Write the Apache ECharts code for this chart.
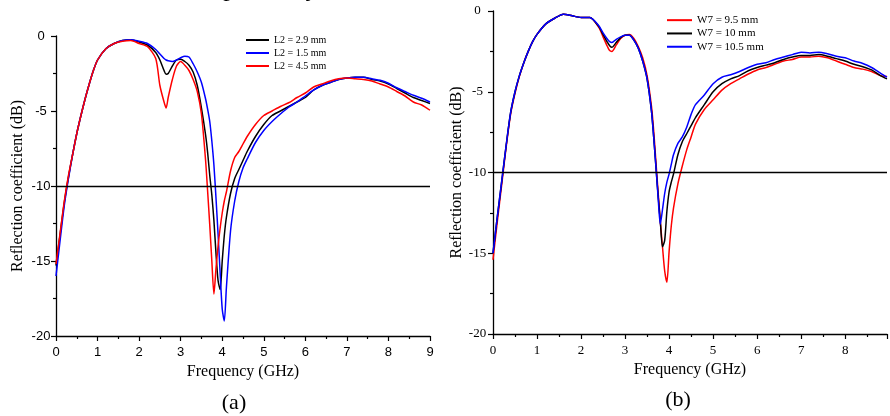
<!DOCTYPE html>
<html>
<head>
<meta charset="utf-8">
<script src="https://cdn.jsdelivr.net/npm/echarts@6/dist/echarts.min.js"></script>
<style>
html,body{margin:0;padding:0;background:#fff;}
#c{width:890px;height:416px;}
</style>
</head>
<body>
<div id="c"></div>
<script>
// ---------- data ----------
const freqA = [0,0.1,0.2,0.3,0.4,0.5,0.6,0.7,0.8,0.9,1.0,1.2,1.4,1.6,1.8,2.0,2.2,2.4,2.5,2.6,2.65,2.7,2.8,2.9,3.0,3.1,3.2,3.3,3.4,3.5,3.6,3.65,3.7,3.75,3.8,3.85,3.9,3.95,4.0,4.05,4.1,4.2,4.3,4.4,4.5,4.6,4.8,5.0,5.2,5.4,5.6,5.8,6.0,6.2,6.4,6.6,6.8,7.0,7.2,7.4,7.6,7.8,8.0,8.2,8.4,8.6,8.8,9.0];
const L2_29 = [-15.3,-13.2,-11.1,-9.4,-7.9,-6.5,-5.3,-4.2,-3.2,-2.3,-1.6,-0.85,-0.5,-0.3,-0.25,-0.4,-0.6,-1.1,-1.6,-2.3,-2.55,-2.5,-2.0,-1.6,-1.55,-1.7,-1.95,-2.4,-3.3,-4.8,-6.6,-7.8,-9.3,-10.6,-12.3,-14.5,-16.3,-16.9,-15.0,-13.3,-12.1,-10.5,-9.5,-8.9,-8.3,-7.7,-6.7,-5.9,-5.3,-5.0,-4.7,-4.4,-4.1,-3.6,-3.3,-3.1,-2.9,-2.8,-2.75,-2.75,-2.9,-3.0,-3.2,-3.5,-3.8,-4.1,-4.3,-4.5];
const L2_15 = [-16.0,-13.6,-11.3,-9.5,-7.9,-6.5,-5.3,-4.2,-3.2,-2.3,-1.6,-0.85,-0.5,-0.3,-0.25,-0.35,-0.5,-0.9,-1.2,-1.5,-1.6,-1.65,-1.7,-1.6,-1.45,-1.35,-1.4,-1.85,-2.4,-3.1,-4.2,-4.9,-5.7,-7.0,-8.6,-10.8,-13.2,-15.8,-18.2,-19.0,-16.8,-13.0,-11.0,-9.7,-8.8,-8.2,-7.1,-6.3,-5.7,-5.2,-4.75,-4.4,-4.0,-3.6,-3.3,-3.1,-2.9,-2.8,-2.75,-2.75,-2.85,-2.95,-3.15,-3.45,-3.7,-3.95,-4.15,-4.4];
const L2_45 = [-15.2,-13.1,-11.0,-9.3,-7.9,-6.5,-5.3,-4.2,-3.2,-2.3,-1.6,-0.85,-0.5,-0.35,-0.3,-0.5,-0.7,-1.5,-3.3,-4.4,-4.8,-4.1,-2.9,-2.0,-1.7,-1.95,-2.3,-2.9,-3.7,-5.2,-8.3,-10.4,-12.6,-15.0,-17.2,-15.5,-14.0,-12.8,-11.8,-11.0,-10.4,-9.0,-8.1,-7.7,-7.2,-6.7,-5.9,-5.3,-5.0,-4.7,-4.45,-4.1,-3.8,-3.4,-3.2,-3.0,-2.85,-2.8,-2.85,-2.9,-3.0,-3.2,-3.4,-3.7,-4.0,-4.4,-4.6,-4.95];

const freqB = [0,0.1,0.2,0.3,0.4,0.5,0.6,0.7,0.8,0.9,1.0,1.2,1.4,1.6,1.8,2.0,2.2,2.4,2.5,2.6,2.65,2.7,2.8,2.9,3.0,3.1,3.2,3.3,3.4,3.5,3.6,3.65,3.7,3.75,3.8,3.85,3.9,3.95,4.0,4.05,4.1,4.2,4.3,4.4,4.5,4.6,4.8,5.0,5.2,5.4,5.6,5.8,6.0,6.2,6.4,6.6,6.8,7.0,7.2,7.4,7.6,7.8,8.0,8.2,8.4,8.6,8.8,8.95];
const W7_95  = [-15.4,-13.0,-10.7,-8.4,-6.4,-5.1,-4.05,-3.2,-2.5,-1.9,-1.45,-0.8,-0.45,-0.2,-0.3,-0.4,-0.4,-1.0,-1.6,-2.2,-2.45,-2.5,-2.1,-1.7,-1.5,-1.45,-1.7,-2.2,-2.9,-4.0,-5.9,-7.4,-9.3,-11.2,-13.0,-14.6,-16.1,-16.8,-14.9,-13.3,-12.2,-10.7,-9.6,-8.6,-7.8,-7.0,-6.1,-5.5,-4.9,-4.5,-4.2,-3.9,-3.65,-3.5,-3.3,-3.1,-3.0,-2.85,-2.85,-2.8,-2.9,-3.1,-3.3,-3.5,-3.6,-3.75,-4.0,-4.05];
const W7_10  = [-15.0,-12.7,-10.5,-8.3,-6.3,-5.0,-4.0,-3.2,-2.5,-1.9,-1.45,-0.8,-0.45,-0.2,-0.3,-0.4,-0.4,-0.95,-1.45,-1.95,-2.15,-2.25,-1.95,-1.65,-1.5,-1.5,-1.8,-2.3,-3.1,-4.2,-6.2,-7.8,-9.6,-11.4,-13.0,-14.6,-14.2,-12.4,-11.2,-10.6,-10.1,-8.9,-8.1,-7.6,-7.1,-6.6,-5.8,-5.0,-4.5,-4.2,-4.0,-3.7,-3.5,-3.35,-3.2,-3.0,-2.85,-2.75,-2.75,-2.7,-2.8,-2.95,-3.1,-3.3,-3.45,-3.65,-4.0,-4.2];
const W7_105 = [-15.0,-12.7,-10.5,-8.3,-6.3,-5.0,-4.0,-3.2,-2.5,-1.9,-1.45,-0.8,-0.45,-0.2,-0.3,-0.4,-0.4,-0.9,-1.35,-1.75,-1.9,-1.95,-1.75,-1.6,-1.5,-1.5,-1.8,-2.3,-3.1,-4.2,-6.2,-7.8,-9.6,-11.5,-13.2,-12.3,-11.3,-10.6,-10.1,-9.5,-8.9,-8.2,-7.8,-7.2,-6.4,-5.8,-5.2,-4.5,-4.1,-3.95,-3.75,-3.5,-3.3,-3.2,-3.0,-2.85,-2.7,-2.55,-2.6,-2.55,-2.65,-2.8,-2.9,-3.1,-3.25,-3.5,-3.85,-4.1];

const namesA = ['L2 = 2.9 mm','L2 = 1.5 mm','L2 = 4.5 mm'];
const namesB = ['W7 = 9.5 mm','W7 = 10 mm','W7 = 10.5 mm'];
const refLevel = -10;
const yMin = -20, yMax = 0, yStep = 5;
const xStep = 1;
const xMaxA = 9, xMaxB = 8.95;
const xTitle = 'Frequency (GHz)';
const yTitle = 'Reflection coefficient (dB)';
const captions = ['(a)','(b)'];

// ---------- chart ----------
const SERIF = "'Liberation Serif','Times New Roman',serif";
const SANS = "'Liberation Sans',Arial,sans-serif";
const pair = (xs, ys) => xs.map((x, i) => [x, ys[i]]);

function xAxisCfg(gi, max, font, nameGap) {
  return {
    gridIndex: gi, type: 'value', min: 0, max: max, interval: xStep,
    name: xTitle, nameLocation: 'middle', nameGap: nameGap,
    nameTextStyle: {fontFamily: SERIF, fontSize: 16, color: '#000'},
    axisLine: {show: true, onZero: false, lineStyle: {color: '#000', width: 1.3}},
    axisTick: {show: true, inside: false, length: 5, lineStyle: {color: '#000', width: 1.2}},
    minorTick: {show: true, splitNumber: 2, length: 3, lineStyle: {color: '#000', width: 1.2}},
    splitLine: {show: false},
    axisLabel: {margin: 10, fontFamily: font, fontSize: 13, color: '#000',
      formatter: v => (Math.abs(v - Math.round(v)) < 1e-9 ? String(Math.round(v)) : '')}
  };
}
function yAxisCfg(gi, font, nameGap, margin) {
  return {
    gridIndex: gi, type: 'value', min: yMin, max: yMax, interval: yStep,
    name: yTitle, nameLocation: 'middle', nameGap: nameGap,
    nameTextStyle: {fontFamily: SERIF, fontSize: 16, color: '#000'},
    axisLine: {show: true, onZero: false, lineStyle: {color: '#000', width: 1.3}},
    axisTick: {show: true, inside: false, length: 5, lineStyle: {color: '#000', width: 1.2}},
    minorTick: {show: true, splitNumber: 2, length: 3, lineStyle: {color: '#000', width: 1.2}},
    splitLine: {show: false},
    axisLabel: {margin: margin, align: 'center', fontFamily: font, fontSize: 13, color: '#000'}
  };
}
function lineSeries(name, xi, xs, ys, color, mark) {
  const s = {
    name: name, type: 'line', xAxisIndex: xi, yAxisIndex: xi,
    data: pair(xs, ys), showSymbol: false, symbol: 'none', smooth: 0.25,
    lineStyle: {color: color, width: 1.5}, itemStyle: {color: color},
    emphasis: {disabled: true}, silent: true
  };
  if (mark) {
    s.markLine = {silent: true, symbol: 'none', label: {show: false},
      lineStyle: {color: '#000', width: 1.3, type: 'solid'},
      emphasis: {disabled: true},
      data: [{yAxis: refLevel}]};
  }
  return s;
}

const chart = echarts.init(document.getElementById('c'), null, {renderer: 'canvas'});
chart.setOption({
  animation: false,
  backgroundColor: '#fff',
  grid: [
    {left: 56, top: 36, width: 374, height: 300},
    {left: 493, top: 11, width: 397, height: 323}
  ],
  xAxis: [xAxisCfg(0, xMaxA, SANS, 24), xAxisCfg(1, xMaxB, SERIF, 26)],
  yAxis: [yAxisCfg(0, SANS, 30, 15), yAxisCfg(1, SERIF, 26, 15.5)],
  legend: [
    {data: namesA, orient: 'vertical', left: 246, top: 33.5, padding: 0, itemWidth: 23, itemHeight: 2,
     itemGap: 0, icon: 'rect', selectedMode: false,
     textStyle: {fontFamily: SERIF, fontSize: 10, lineHeight: 13, color: '#000'}},
    {data: namesB, orient: 'vertical', left: 667, top: 13.5, padding: 0, itemWidth: 25, itemHeight: 2,
     itemGap: 0, icon: 'rect', selectedMode: false,
     textStyle: {fontFamily: SERIF, fontSize: 11, lineHeight: 13.3, color: '#000'}}
  ],
  series: [
    lineSeries(namesA[0], 0, freqA, L2_29, '#000000', true),
    lineSeries(namesA[1], 0, freqA, L2_15, '#0000ff', false),
    lineSeries(namesA[2], 0, freqA, L2_45, '#ff0000', false),
    lineSeries(namesB[0], 1, freqB, W7_95, '#ff0000', true),
    lineSeries(namesB[1], 1, freqB, W7_10, '#000000', false),
    lineSeries(namesB[2], 1, freqB, W7_105, '#0000ff', false)
  ],
  graphic: [
    {type: 'text', left: 180, top: -24, style: {text: ', respectively', font: '26px ' + SERIF, fill: '#000'}},
    {type: 'text', x: 234, y: 403, style: {text: captions[0], font: '22px ' + SERIF, fill: '#000', align: 'center', verticalAlign: 'middle'}},
    {type: 'text', x: 678, y: 400, style: {text: captions[1], font: '22px ' + SERIF, fill: '#000', align: 'center', verticalAlign: 'middle'}}
  ]
});
</script>
</body>
</html>
